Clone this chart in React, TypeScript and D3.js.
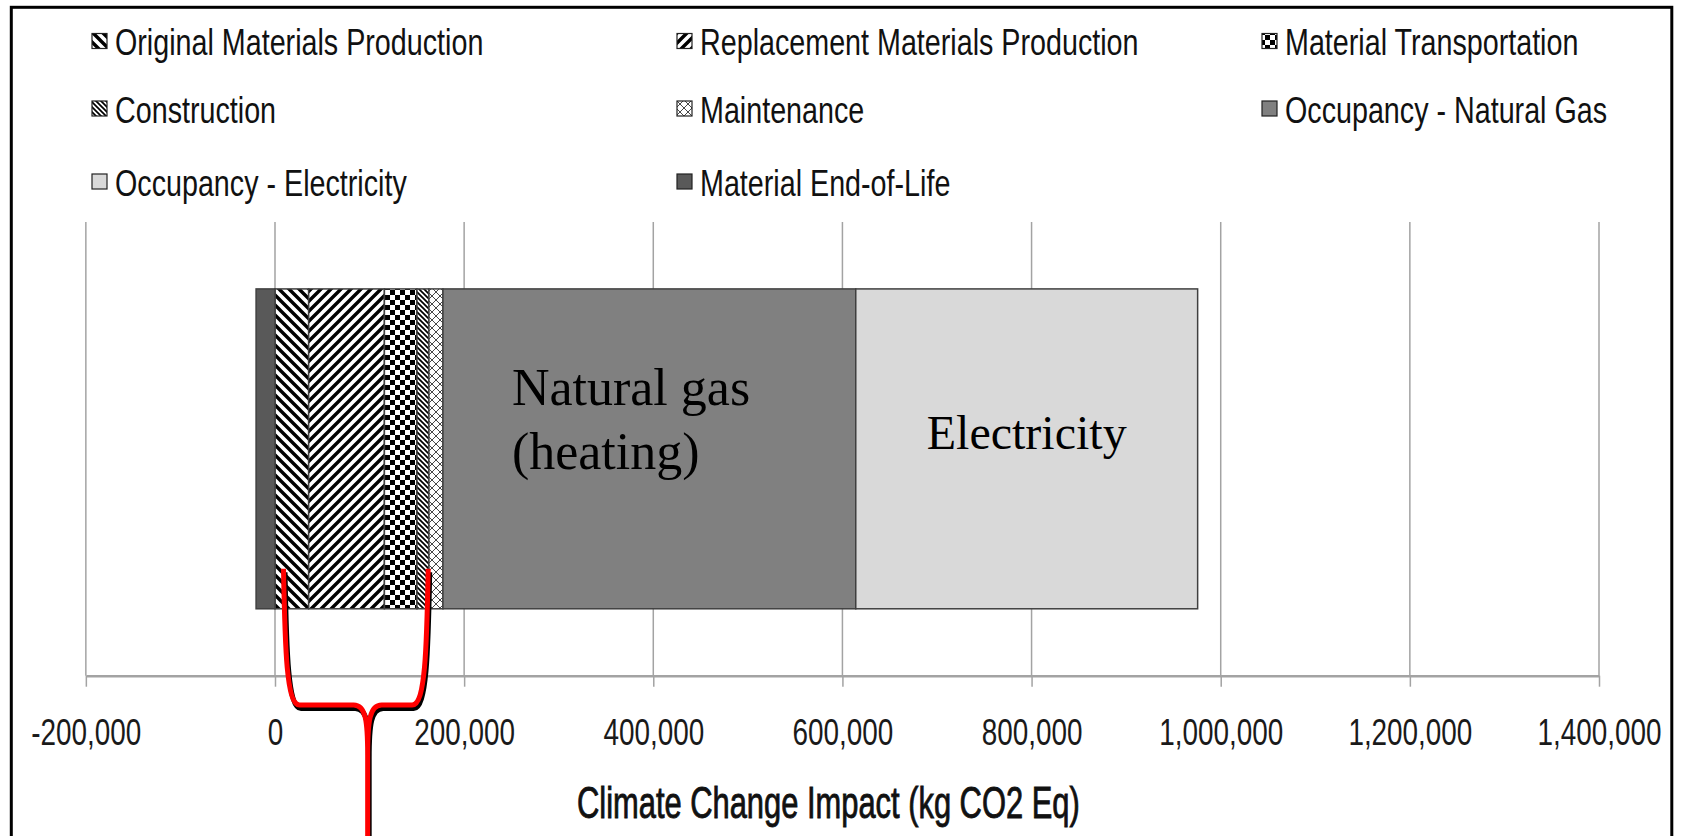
import React, { useEffect, useRef } from "react";
import * as d3 from "d3";

// ---------------- data ----------------
const categories = ["Building"];
const seriesNames = [
  "Original Materials Production",
  "Replacement Materials Production",
  "Material Transportation",
  "Construction",
  "Maintenance",
  "Occupancy - Natural Gas",
  "Occupancy - Electricity",
  "Material End-of-Life",
];
const seriesValues = [35600, 80100, 34400, 12700, 14800, 436500, 361500, -20000];
const tickValues = [-200000, 0, 200000, 400000, 600000, 800000, 1000000, 1200000, 1400000];
const axisTitle = "Climate Change Impact (kg CO2 Eq)";
const gasLabel = ["Natural gas", "(heating)"];
const elecLabel = "Electricity";
// brace annotation (data units)
const braceFrom = 9000;
const braceTip = 98000;
const braceTo = 162000;

// ---------------- style ----------------
const W = 1681;
const H = 836;
const fills = [
  "url(#p-orig)",
  "url(#p-repl)",
  "url(#p-trans)",
  "url(#p-cons)",
  "url(#p-maint)",
  "#808080",
  "#d9d9d9",
  "#595959",
];
const SANS = "'Liberation Sans', Arial, sans-serif";
const SERIF = "'Liberation Serif', 'Times New Roman', serif";
const NARROW_X = 0.82;

const plotTop = 222;
const axisY = 675.7;

export default function App() {
  const axisRef = useRef<SVGGElement>(null);

  const x = d3.scaleLinear().domain([-200000, 1400000]).range([85.85, 1599]);
  const y = d3
    .scaleBand<string>()
    .domain(categories)
    .range([plotTop, axisY])
    .paddingInner(0.173)
    .paddingOuter(0.173);

  const row: Record<string, any> = { cat: categories[0] };
  seriesNames.forEach((n, i) => (row[n] = seriesValues[i]));
  const stacked = d3
    .stack<any>()
    .keys(seriesNames)
    .offset(d3.stackOffsetDiverging)([row]);

  useEffect(() => {
    if (!axisRef.current) return;
    const g = d3.select(axisRef.current);
    const fmt = d3.format(",");
    g.call(
      d3
        .axisBottom(x)
        .tickValues(tickValues)
        .tickSize(11)
        .tickSizeOuter(0)
        .tickFormat((d: any) => fmt(d).replace("\u2212", "-"))
    );
    g.attr("font-family", SANS).attr("font-size", 34);
    g.select(".domain").attr("stroke", "#a3a3a3").attr("stroke-width", 2.5);
    g.selectAll(".tick line").attr("stroke", "#a3a3a3").attr("stroke-width", 1.5);
    g.selectAll(".tick text")
      .attr("y", 0)
      .attr("dy", null)
      .attr("fill", "#1a1a1a")
      .attr("transform", `translate(0,${745 - axisY}) scale(${NARROW_X},1.1)`);
  }, []);

  const bandY = y(categories[0])!;
  const bw = y.bandwidth();

  const xs = x(braceFrom);
  const xt = x(braceTip);
  const xe = x(braceTo);
  const top = bandY + bw - 40;
  const hy = 705;
  const bot = H + 10;
  const braceD =
    `M${xs},${top} C${xs + 1.5},${hy - 55} ${xs + 3},${hy} ${xs + 16},${hy} ` +
    `L${xt - 14},${hy} C${xt - 2},${hy} ${xt},${hy + 16} ${xt},${hy + 50} L${xt},${bot} ` +
    `M${xt},${hy + 50} C${xt},${hy + 16} ${xt + 2},${hy} ${xt + 14},${hy} ` +
    `L${xe - 16},${hy} C${xe - 3},${hy} ${xe - 1.5},${hy - 55} ${xe},${top}`;

  const legendCols = [92, 677, 1262];
  const legendRows = [55, 122.5, 195.5];

  return (
    <svg
      width={W}
      height={H}
      style={{ position: "absolute", left: 0, top: 0, display: "block" }}
    >
      <defs>
        <pattern id="p-orig" patternUnits="userSpaceOnUse" width="10" height="10">
          <rect width="10" height="10" fill="#fff" />
          <path d="M0,0 L10,10 M-5,5 L5,15 M5,-5 L15,5" stroke="#000" strokeWidth="3.4" />
        </pattern>
        <pattern id="p-repl" patternUnits="userSpaceOnUse" width="10" height="10">
          <rect width="10" height="10" fill="#fff" />
          <path d="M0,10 L10,0 M-5,5 L5,-5 M5,15 L15,5" stroke="#000" strokeWidth="3.4" />
        </pattern>
        <pattern id="p-trans" patternUnits="userSpaceOnUse" width="10" height="10">
          <rect width="10" height="10" fill="#fff" />
          <rect width="5" height="5" fill="#000" />
          <rect x="5" y="5" width="5" height="5" fill="#000" />
        </pattern>
        <pattern id="p-cons" patternUnits="userSpaceOnUse" width="5" height="5">
          <rect width="5" height="5" fill="#fff" />
          <path d="M0,0 L5,5 M-2.5,2.5 L2.5,7.5 M2.5,-2.5 L7.5,2.5" stroke="#000" strokeWidth="1.7" />
        </pattern>
        <pattern id="p-maint" patternUnits="userSpaceOnUse" width="8" height="8">
          <rect width="8" height="8" fill="#fff" />
          <path d="M0,0 L8,8 M0,8 L8,0" stroke="#333" strokeWidth="0.9" />
        </pattern>
      </defs>

      <rect x={0} y={0} width={W} height={H} fill="#fff" />

      {/* gridlines */}
      {tickValues.map((t) => (
        <line
          key={t}
          x1={x(t)}
          x2={x(t)}
          y1={plotTop}
          y2={axisY}
          stroke="#a3a3a3"
          strokeWidth={1.5}
        />
      ))}

      {/* stacked bar */}
      {stacked.map((s, i) =>
        s.map((d, j) => (
          <rect
            key={`${i}-${j}`}
            x={x(Math.min(d[0], d[1]))}
            y={bandY}
            width={Math.abs(x(d[1]) - x(d[0]))}
            height={bw}
            fill={fills[i]}
            stroke="#404040"
            strokeWidth={1.5}
          />
        ))
      )}

      {/* in-bar labels */}
      <text fontFamily={SERIF} fontSize={52} fill="#000">
        <tspan x={x(250500)} y={405}>{gasLabel[0]}</tspan>
        <tspan x={x(250500)} y={469}>{gasLabel[1]}</tspan>
      </text>
      {(() => {
        const s = stacked[6][0];
        return (
          <text
            x={(x(s[0]) + x(s[1])) / 2}
            y={449}
            textAnchor="middle"
            fontFamily={SERIF}
            fontSize={48}
            fill="#000"
          >
            {elecLabel}
          </text>
        );
      })()}

      {/* axis */}
      <g ref={axisRef} transform={`translate(0,${axisY})`} />
      <text
        transform={`translate(577,818) scale(0.772,1.1)`}
        fontFamily={SANS}
        fontSize={40}
        fill="#111"
        stroke="#111"
        strokeWidth={0.8}
      >
        {axisTitle}
      </text>

      {/* brace annotation */}
      <path
        d={braceD}
        transform="translate(1.5,3.5)"
        fill="none"
        stroke="#000"
        strokeWidth={5}
      />
      <path d={braceD} fill="none" stroke="#ff0000" strokeWidth={5} />

      {/* legend */}
      {seriesNames.map((n, i) => {
        const cx = legendCols[i % 3];
        const by = legendRows[Math.floor(i / 3)];
        return (
          <g key={n}>
            <rect
              x={cx}
              y={by - 21.5}
              width={15}
              height={15}
              fill={fills[i]}
              stroke="#222"
              strokeWidth={1.2}
            />
            <text
              transform={`translate(${cx + 23},${by}) scale(${NARROW_X},1.08)`}
              fontFamily={SANS}
              fontSize={35}
              fill="#111"
            >
              {n}
            </text>
          </g>
        );
      })}

      {/* frame */}
      <rect
        x={11.3}
        y={7.3}
        width={1660.5}
        height={H + 20}
        fill="none"
        stroke="#000"
        strokeWidth={3}
      />
    </svg>
  );
}
